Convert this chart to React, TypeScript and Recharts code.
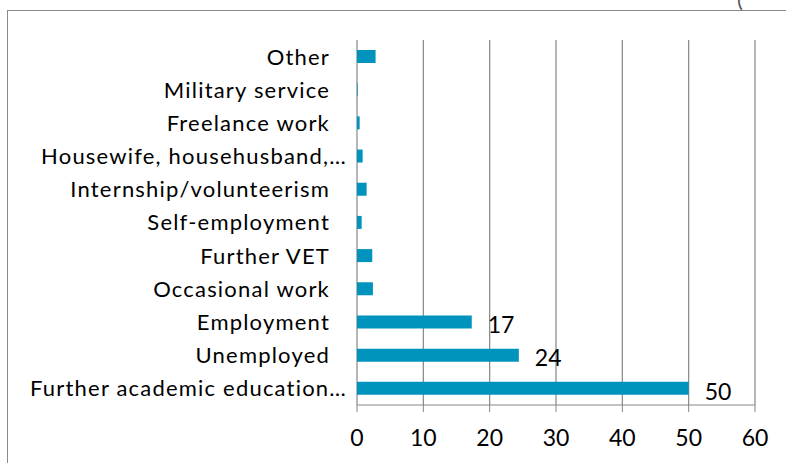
import { BarChart, Bar, XAxis, YAxis, CartesianGrid, LabelList } from 'recharts';

const categories = [
    'Other',
    'Military service',
    'Freelance work',
    'Housewife, househusband,…',
    'Internship/volunteerism',
    'Self-employment',
    'Further VET',
    'Occasional work',
    'Employment',
    'Unemployed',
    'Further academic education…',
];
const shares = [2.8, 0.1, 0.4, 0.85, 1.45, 0.7, 2.3, 2.4, 17.3, 24.4, 50];
const xTicks = [0, 10, 20, 30, 40, 50, 60];
const labelFrom = 10;

const FONT = 'Lato, "Open Sans", sans-serif';
const GRID = '#868686';
const BAR = '#0093BE';

// Band boundaries for the Excel-style category ticks
const boundaries = Array.from({ length: categories.length + 1 }, (_, i) => i);

const CategoryTick = (props: any) => {
    const { x, y, payload } = props;
    const cut = String(payload.value).endsWith('…');
    return (
        <text
            x={x + (cut ? 17 : 0)}
            y={y}
            dy="0.36em"
            textAnchor="end"
            fontSize={22}
            letterSpacing={1.2}
            fontFamily={FONT}
            fill="#000"
        >
            {payload.value}
        </text>
    );
};

const ValueLabel = (props: any) => {
    const { x, y, width, height, value } = props;
    if (value < labelFrom) return null;
    return (
        <text x={x + width + 16} y={y + height / 2 + 3} dy="0.36em" fontSize={23} fontFamily={FONT} fill="#000">
            {Math.round(value)}
        </text>
    );
};

const App = () => {
    const data = categories.map((name, i) => ({ name, value: shares[i] }));

    return (
        <div style={{ position: 'absolute', left: 0, top: 0, width: 786, height: 463, overflow: 'hidden', background: '#fff' }}>
            <div
                style={{
                    position: 'absolute',
                    left: 7,
                    top: 10,
                    width: 779,
                    height: 453,
                    borderLeft: '1.5px solid #8a8a8a',
                    borderTop: '1.5px solid #8a8a8a',
                }}
            />
            <span style={{ position: 'absolute', left: 737, top: -15, fontSize: 22, fontFamily: FONT, color: '#555' }}>(</span>
            <div style={{ position: 'absolute', left: 0, top: 0 }}>
                <BarChart
                    width={786}
                    height={463}
                    data={data}
                    layout="vertical"
                    margin={{ top: 40, right: 31, bottom: 0, left: 0 }}
                >
                    <CartesianGrid horizontal={false} stroke={GRID} strokeWidth={1.2} />
                    <XAxis
                        type="number"
                        domain={[0, 60]}
                        ticks={xTicks}
                        height={58}
                        tickSize={7}
                        tickMargin={18}
                        stroke={GRID}
                        tick={{ fontSize: 23, fontFamily: FONT, fill: '#000' }}
                        interval={0}
                    />
                    <YAxis
                        type="category"
                        dataKey="name"
                        width={357}
                        axisLine={false}
                        tickLine={false}
                        tickSize={0}
                        tickMargin={27}
                        interval={0}
                        tick={<CategoryTick />}
                    />
                    <YAxis
                        yAxisId="bounds"
                        type="number"
                        domain={[0, categories.length]}
                        ticks={boundaries}
                        width={0}
                        tickSize={7}
                        stroke={GRID}
                        strokeWidth={1.5}
                        tickFormatter={() => ''}
                        interval={0}
                    />
                    <Bar dataKey="value" fill={BAR} barSize={13} isAnimationActive={false}>
                        <LabelList dataKey="value" content={<ValueLabel />} />
                    </Bar>
                </BarChart>
            </div>
        </div>
    );
};

export default App;
